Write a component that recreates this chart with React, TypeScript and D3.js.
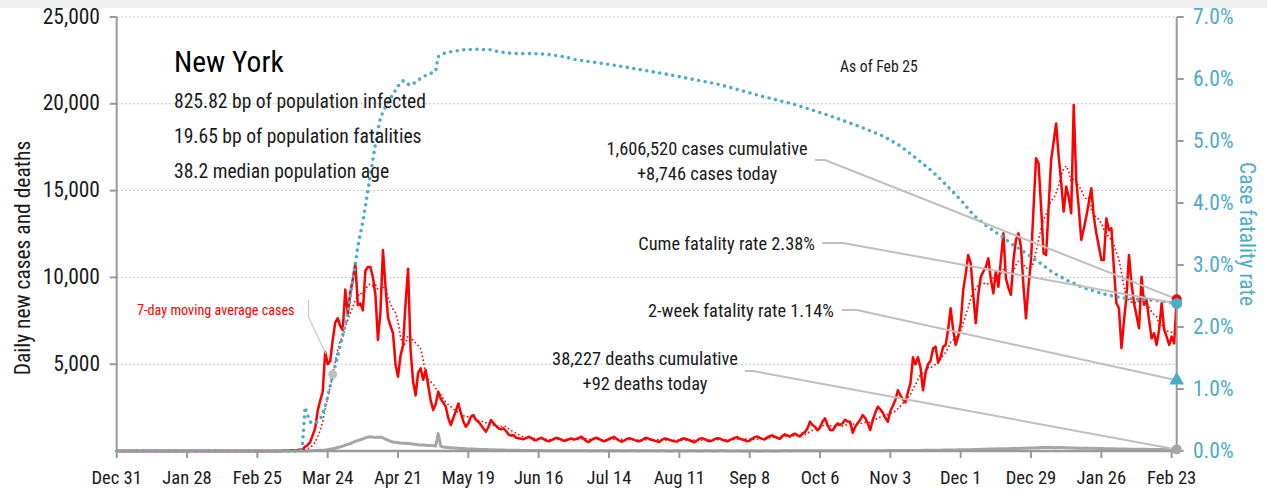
import React from "react";
import * as d3 from "d3";

const FONT = "'Liberation Sans Narrow','Arial Narrow','Roboto Condensed','DejaVu Sans Condensed',sans-serif";

// ---- data ----
const chartStart = "2019-12-31";
const chartEnd = "2021-02-25";
const seriesStart = "2020-03-01";

const casesMar2020 = [0, 0, 1, 2, 5, 10, 20, 15, 30, 40, 50, 60, 80, 100, 250, 350, 500, 900, 1300, 2300, 2900, 3400, 5700, 5000, 5200, 6400, 7400, 7650, 7200, 6970, 9300];
const casesApr2020 = [7900, 9100, 9900, 10800, 8400, 8500, 8100, 10400, 10600, 10600, 10000, 9000, 6400, 8000, 11580, 9500, 7700, 7200, 6800, 5000, 4280, 5500, 6100, 8500, 10500, 5800, 4000, 3200, 4500, 4760];
const casesMay2020 = [4100, 4670, 3800, 2900, 2360, 2700, 3420, 3000, 2800, 2550, 1900, 1500, 1900, 2300, 2740, 2200, 1700, 1400, 1600, 1980, 2070, 1790, 1690, 1500, 1300, 1110, 1400, 1790, 1600, 1450, 1310];
const casesJun2020 = [1250, 1310, 1150, 950, 880, 920, 760, 730, 700, 680, 750, 820, 760, 650, 620, 700, 760, 680, 600, 560, 620, 700, 760, 720, 650, 580, 620, 680, 720, 660];
const casesJul2020 = [700, 760, 820, 700, 560, 520, 640, 720, 770, 700, 620, 560, 600, 700, 750, 820, 700, 600, 540, 600, 680, 740, 700, 640, 580, 560, 620, 720, 760, 700, 650];
const casesAug2020 = [600, 560, 520, 640, 720, 700, 650, 600, 560, 540, 620, 700, 720, 680, 620, 560, 500, 600, 700, 740, 680, 620, 560, 600, 680, 740, 720, 660, 600, 560, 620];
const casesSep2020 = [700, 760, 800, 720, 660, 620, 560, 600, 720, 800, 840, 760, 700, 660, 780, 860, 900, 820, 760, 700, 860, 960, 900, 840, 940, 1000, 900, 840, 1000, 1100];
const casesOct2020 = [1300, 1690, 1500, 1400, 1200, 1350, 1700, 1880, 1500, 1210, 1200, 1400, 1600, 1500, 1600, 1800, 1700, 1690, 1050, 1400, 1600, 1800, 2070, 1900, 1600, 1210, 1800, 2200, 2550, 2400, 2200];
const casesNov2020 = [1900, 1690, 2300, 2600, 2940, 3500, 3200, 3000, 2800, 3400, 3900, 5400, 5000, 5400, 4800, 3500, 4500, 5000, 5200, 5900, 6010, 5100, 5400, 6000, 6100, 7000, 8220, 7000, 6110, 6600];
const casesDec2020 = [7360, 9270, 10200, 11290, 10810, 9000, 7360, 9000, 10040, 10330, 10600, 11100, 9900, 9080, 10330, 9460, 11000, 12540, 9950, 9400, 8990, 11000, 12160, 12540, 11770, 9500, 7640, 9500, 11000, 14000, 16860];
const casesJan2021 = [16570, 14080, 11390, 11290, 14000, 16760, 17800, 18870, 17000, 15500, 13790, 15230, 14650, 13690, 19930, 15610, 14000, 12160, 12800, 13500, 14300, 15130, 13500, 12540, 11800, 11000, 11000, 13400, 12730, 12830, 10500];
const casesFeb2021 = [8510, 8220, 5920, 7500, 8890, 11290, 9660, 8510, 7800, 7070, 10040, 8420, 8700, 7550, 6490, 6780, 6110, 7000, 8510, 7000, 6590, 6110, 6590, 6200, 8746];

const deathsMar2020 = [0, 0, 0, 0, 0, 0, 0, 0, 0, 0, 0, 0, 0, 0, 3, 5, 10, 15, 25, 30, 40, 50, 60, 80, 100, 130, 160, 200, 240, 280, 340];
const deathsApr2020 = [380, 430, 500, 560, 600, 650, 700, 760, 800, 820, 800, 780, 790, 800, 760, 680, 620, 560, 520, 500, 480, 460, 450, 440, 430, 420, 400, 380, 360, 350];
const deathsMay2020 = [340, 330, 320, 310, 300, 290, 1000, 280, 230, 220, 200, 190, 180, 170, 160, 150, 140, 130, 120, 115, 110, 100, 95, 90, 85, 80, 75, 70, 65, 60, 58];
const deathsJun2020 = [55, 52, 50, 48, 45, 42, 40, 38, 35, 33, 30, 30, 28, 26, 25, 24, 22, 20, 20, 18, 17, 16, 15, 15, 14, 13, 12, 12, 11, 10];
const deathsJul2020 = [10, 9, 8, 9, 10, 8, 7, 9, 10, 11, 9, 8, 7, 8, 9, 10, 11, 9, 8, 7, 8, 9, 10, 9, 8, 7, 8, 9, 10, 9, 8];
const deathsAug2020 = [8, 7, 8, 9, 8, 7, 6, 7, 8, 9, 8, 7, 6, 7, 8, 9, 8, 7, 6, 7, 8, 9, 8, 7, 6, 7, 8, 9, 8, 7, 6];
const deathsSep2020 = [6, 7, 8, 7, 6, 5, 6, 7, 8, 7, 6, 5, 6, 7, 8, 7, 6, 5, 6, 7, 8, 9, 8, 7, 8, 9, 10, 9, 8, 9];
const deathsOct2020 = [10, 11, 10, 9, 10, 11, 12, 11, 10, 11, 12, 13, 14, 13, 12, 13, 14, 15, 14, 13, 14, 15, 16, 17, 16, 15, 16, 17, 18, 19, 20];
const deathsNov2020 = [20, 22, 24, 23, 25, 27, 26, 28, 30, 32, 31, 33, 35, 34, 36, 38, 40, 42, 41, 44, 46, 48, 50, 52, 54, 56, 58, 60, 62, 65];
const deathsDec2020 = [68, 70, 72, 75, 78, 80, 85, 90, 95, 100, 105, 110, 115, 120, 122, 125, 128, 130, 132, 135, 138, 140, 145, 150, 155, 160, 165, 170, 175, 180, 185];
const deathsJan2021 = [190, 195, 200, 205, 210, 200, 195, 190, 200, 205, 195, 190, 185, 180, 175, 170, 165, 160, 165, 170, 165, 160, 155, 150, 150, 145, 140, 135, 130, 128, 125];
const deathsFeb2021 = [120, 118, 115, 112, 110, 108, 105, 102, 100, 98, 96, 95, 94, 93, 92, 91, 90, 90, 92, 91, 90, 92, 93, 92, 92];

const cfrDates = [
  "2019-12-31", "2020-03-13", "2020-03-14", "2020-03-15", "2020-03-16", "2020-03-17", "2020-03-18", "2020-03-19",
  "2020-03-21", "2020-03-23", "2020-03-25", "2020-03-27", "2020-03-29", "2020-04-01", "2020-04-03", "2020-04-05",
  "2020-04-07", "2020-04-09", "2020-04-11", "2020-04-12", "2020-04-14", "2020-04-16", "2020-04-19", "2020-04-21",
  "2020-04-22", "2020-04-23", "2020-04-24", "2020-04-26", "2020-04-28", "2020-05-01", "2020-05-04", "2020-05-06",
  "2020-05-07", "2020-05-09", "2020-05-12", "2020-05-17", "2020-05-22", "2020-05-28", "2020-05-31", "2020-06-06",
  "2020-06-13", "2020-06-19", "2020-06-26", "2020-07-01", "2020-07-08", "2020-07-18", "2020-07-28", "2020-08-07",
  "2020-08-17", "2020-08-27", "2020-09-06", "2020-09-13", "2020-09-25", "2020-10-09", "2020-10-22", "2020-10-31",
  "2020-11-07", "2020-11-13", "2020-11-20", "2020-11-25", "2020-12-01", "2020-12-06", "2020-12-11", "2020-12-17",
  "2020-12-22", "2020-12-27", "2021-01-02", "2021-01-07", "2021-01-12", "2021-01-18", "2021-01-23", "2021-01-28",
  "2021-02-02", "2021-02-08", "2021-02-13", "2021-02-18", "2021-02-25",
];
const cfrPercent = [
  0, 0, 0.12, 0.71, 0.58, 0.47, 0.45, 0.45,
  0.5, 0.72, 1.05, 1.37, 1.7, 2.2, 2.75, 3.3,
  3.7, 4.2, 4.7, 4.95, 5.38, 5.55, 5.76, 5.88,
  5.95, 5.97, 5.93, 5.9, 5.95, 6.04, 6.09, 6.13,
  6.36, 6.41, 6.44, 6.47, 6.48, 6.47, 6.44, 6.41,
  6.41, 6.4, 6.36, 6.31, 6.27, 6.21, 6.14, 6.07,
  5.99, 5.91, 5.8, 5.72, 5.6, 5.42, 5.23, 5.08,
  4.92, 4.73, 4.5, 4.3, 4.05, 3.81, 3.64, 3.47,
  3.32, 3.19, 3.02, 2.87, 2.76, 2.65, 2.58, 2.52,
  2.48, 2.45, 2.44, 2.42, 2.38,
];

const xTickDates = ["2019-12-31", "2020-01-28", "2020-02-25", "2020-03-24", "2020-04-21", "2020-05-19", "2020-06-16", "2020-07-14", "2020-08-11", "2020-09-08", "2020-10-06", "2020-11-03", "2020-12-01", "2020-12-29", "2021-01-26", "2021-02-23"];
const caseTicks = [5000, 10000, 15000, 20000, 25000];
const cfrTicks = [0, 0.01, 0.02, 0.03, 0.04, 0.05, 0.06, 0.07];

const stateName = "New York";
const infoLines = ["825.82 bp of population infected", "19.65 bp of population fatalities", "38.2 median population age"];
const asOfLabel = "As of Feb 25";
const casesCumLabel = ["1,606,520 cases cumulative", "+8,746 cases today"];
const cumeCfrLabel = "Cume fatality rate 2.38%";
const twoWeekCfrLabel = "2-week fatality rate 1.14%";
const deathsCumLabel = ["38,227 deaths cumulative", "+92 deaths today"];
const cumeCfr = 0.0238;
const twoWeekCfr = 0.0114;
const maLegendDate = "2020-03-26";

const RED = "#FF0000";
const BLUE = "#4BACC6";
const GRAY = "#A6A6A6";
const AXIS = "#9A9A9A";
const LEADER = "#BFBFBF";
const TEXT = "#1a1a1a";

type P = { d: Date; v: number };

export default function App() {
  const parse = d3.utcParse("%Y-%m-%d");
  const x0 = parse(chartStart)!;
  const x1 = parse(chartEnd)!;
  const s0 = parse(seriesStart)!;

  const left = 116.7, right = 1176.7, top = 17, bottom = 451;
  const x = d3.scaleUtc().domain([x0, x1]).range([left, right]);
  const y = d3.scaleLinear().domain([0, 25000]).range([bottom, top]);
  const yr = d3.scaleLinear().domain([0, 0.07]).range([bottom, top]);

  const cases = ([] as number[]).concat(casesMar2020, casesApr2020, casesMay2020, casesJun2020, casesJul2020, casesAug2020, casesSep2020, casesOct2020, casesNov2020, casesDec2020, casesJan2021, casesFeb2021);
  const deaths = ([] as number[]).concat(deathsMar2020, deathsApr2020, deathsMay2020, deathsJun2020, deathsJul2020, deathsAug2020, deathsSep2020, deathsOct2020, deathsNov2020, deathsDec2020, deathsJan2021, deathsFeb2021);

  const casePts: P[] = [{ d: x0, v: 0 }, ...cases.map((v, i) => ({ d: d3.utcDay.offset(s0, i), v }))];
  const deathPts: P[] = [{ d: x0, v: 0 }, ...deaths.map((v, i) => ({ d: d3.utcDay.offset(s0, i), v }))];
  const maPts: P[] = [{ d: x0, v: 0 }];
  cases.forEach((_, i) => {
    if (i >= 6) maPts.push({ d: d3.utcDay.offset(s0, i), v: d3.mean(cases.slice(i - 6, i + 1))! });
  });
  const cfrPts: P[] = cfrDates.map((s, i) => ({ d: parse(s)!, v: cfrPercent[i] / 100 }));

  const line = d3.line<P>().x((p) => x(p.d)).y((p) => y(p.v)).curve(d3.curveLinear);
  const lineR = d3.line<P>().x((p) => x(p.d)).y((p) => yr(p.v));

  const lastCase = casePts[casePts.length - 1];
  const lastDeath = deathPts[deathPts.length - 1];
  const ex = x(x1);
  const redY = y(lastCase.v);
  const cfrY = yr(cumeCfr);
  const triY = yr(twoWeekCfr);
  const deathY = y(lastDeath.v);
  const maDot = maPts.find((p) => +p.d === +parse(maLegendDate)!)!;
  const fmt = d3.utcFormat("%b %-d");
  const fmtC = d3.format(",");
  const fmtP = d3.format(".1%");

  return (
    <div style={{ position: "absolute", left: 0, top: 0 }}>
      <svg width={1267} height={491} style={{ display: "block", fontFamily: FONT }}>
        <rect x={0} y={0} width={1267} height={491} fill="#fff" />
        <rect x={0} y={0} width={1267} height={8} fill="#f0f0f0" />
        {/* grid */}
        {caseTicks.map((t) => (
          <line key={t} x1={left} x2={right} y1={y(t)} y2={y(t)} stroke="#BFBFBF" strokeWidth={1} strokeDasharray="2 2" />
        ))}
        {/* series */}
        <path d={line(deathPts)!} fill="none" stroke={GRAY} strokeWidth={3} strokeLinejoin="round" />
        <path d={line(maPts)!} fill="none" stroke={RED} strokeWidth={1.8} strokeDasharray="0 4" strokeLinecap="round" />
        <path d={line(casePts)!} fill="none" stroke={RED} strokeWidth={2.5} strokeLinejoin="round" />
        <path d={lineR(cfrPts)!} fill="none" stroke={BLUE} strokeWidth={3.6} strokeDasharray="0 6.6" strokeLinecap="round" />
        {/* axes */}
        <line x1={left} x2={left} y1={top} y2={bottom} stroke={AXIS} strokeWidth={2} />
        <line x1={right} x2={right} y1={top} y2={bottom} stroke={AXIS} strokeWidth={2} />
        <line x1={left} x2={right} y1={bottom} y2={bottom} stroke={AXIS} strokeWidth={2.5} />
        {xTickDates.map((s) => {
          const d = parse(s)!;
          return (
            <g key={s}>
              <line x1={x(d)} x2={x(d)} y1={bottom} y2={bottom + 7} stroke={AXIS} strokeWidth={2} />
              <text x={x(d)} y={484} textAnchor="middle" fontSize={18.6} fill={TEXT}>{fmt(d)}</text>
            </g>
          );
        })}
        {caseTicks.map((t) => (
          <g key={t}>
            <line x1={left - 7} x2={left} y1={y(t)} y2={y(t)} stroke={AXIS} strokeWidth={2} />
            <text x={100} y={y(t) + 6.5} textAnchor="end" fontSize={21.5} fill={TEXT}>{fmtC(t)}</text>
          </g>
        ))}
        {cfrTicks.map((t) => (
          <g key={t}>
            <line x1={right} x2={right + 7} y1={yr(t)} y2={yr(t)} stroke={AXIS} strokeWidth={2} />
            <text x={1193} y={yr(t) + 7} textAnchor="start" fontSize={21.5} fill={BLUE}>{fmtP(t)}</text>
          </g>
        ))}
        <text transform={`translate(30,${(top + bottom) / 2 + 24}) rotate(-90)`} textAnchor="middle" fontSize={21.5} fill={TEXT}>Daily new cases and deaths</text>
        <text transform={`translate(1240,${234}) rotate(90)`} textAnchor="middle" fontSize={21.5} fill={BLUE}>Case fatality rate</text>
        {/* title block */}
        <text x={174} y={72} fontSize={29.5} fill="#000">{stateName}</text>
        {infoLines.map((s, i) => (
          <text key={s} x={174} y={108.3 + i * 35} fontSize={19.6} fill={TEXT}>{s}</text>
        ))}
        <text x={840} y={72} fontSize={15.7} fill={TEXT}>{asOfLabel}</text>
        {/* legend */}
        <text x={137} y={315} fontSize={14.2} fill={RED}>7-day moving average cases</text>
        <polyline points={`308.5,300 308.5,317 326,354`} fill="none" stroke="#C8C8C8" strokeWidth={1.2} />
        <circle cx={x(maDot.d)} cy={y(maDot.v)} r={4.5} fill="#BFBFBF" />
        {/* leaders */}
        <polyline points={`815,160 825,160 ${ex},${redY}`} fill="none" stroke={LEADER} strokeWidth={2} />
        <polyline points={`822,243 843,243 ${ex},${cfrY}`} fill="none" stroke={LEADER} strokeWidth={2} />
        <polyline points={`842,310 857,310 ${ex},${triY}`} fill="none" stroke={LEADER} strokeWidth={2} />
        <polyline points={`745,371 753,371 ${ex},${deathY}`} fill="none" stroke={LEADER} strokeWidth={2} />
        {/* annotations */}
        <text x={707} y={155} textAnchor="middle" fontSize={18.4} fill={TEXT}>{casesCumLabel[0]}</text>
        <text x={707} y={180} textAnchor="middle" fontSize={18.4} fill={TEXT}>{casesCumLabel[1]}</text>
        <text x={815} y={249.5} textAnchor="end" fontSize={18.4} fill={TEXT}>{cumeCfrLabel}</text>
        <text x={834} y={316.5} textAnchor="end" fontSize={18.4} fill={TEXT}>{twoWeekCfrLabel}</text>
        <text x={645} y={365} textAnchor="middle" fontSize={18.4} fill={TEXT}>{deathsCumLabel[0]}</text>
        <text x={645} y={390} textAnchor="middle" fontSize={18.4} fill={TEXT}>{deathsCumLabel[1]}</text>
        {/* end markers */}
        <circle cx={ex} cy={redY} r={5} fill={RED} />
        <circle cx={ex} cy={cfrY} r={5.5} fill={BLUE} />
        <path d={d3.symbol(d3.symbolTriangle, 95)()!} transform={`translate(${ex},${triY})`} fill={BLUE} />
        <circle cx={ex} cy={deathY} r={5} fill="#A6A6A6" />
      </svg>
    </div>
  );
}
